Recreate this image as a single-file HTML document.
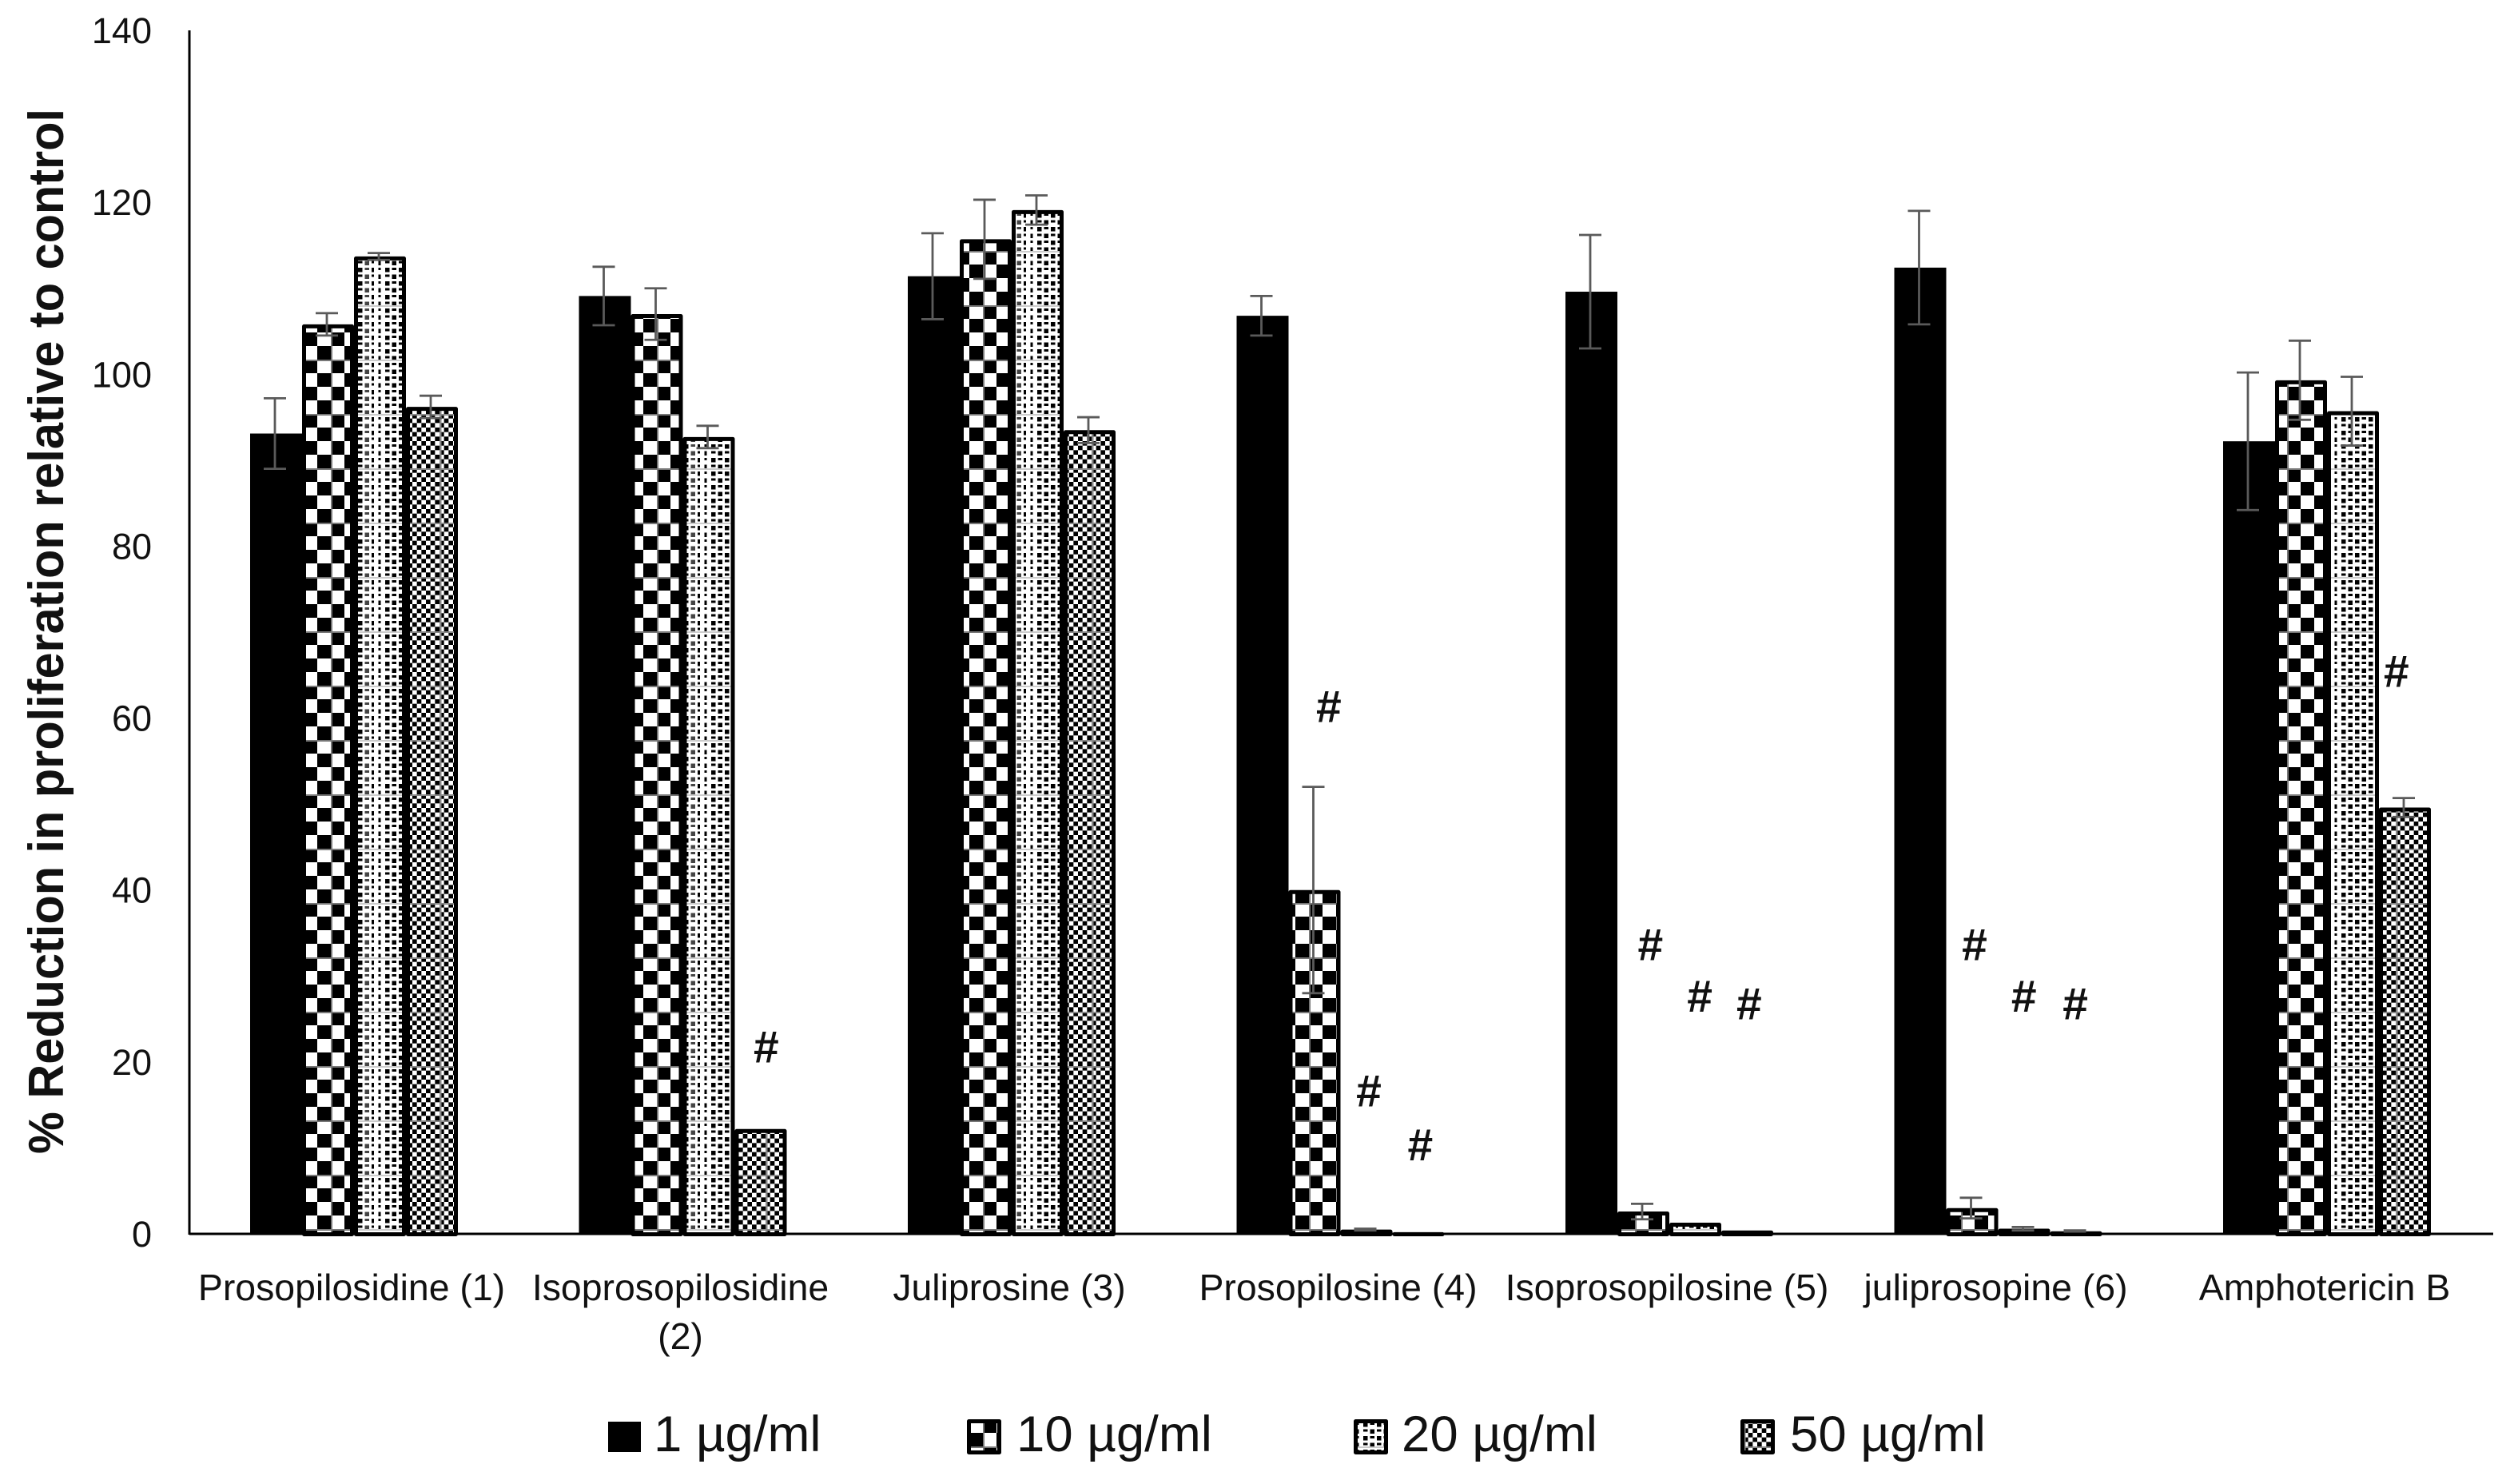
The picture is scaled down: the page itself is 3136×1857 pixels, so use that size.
<!DOCTYPE html>
<html lang="en">
<head>
<meta charset="utf-8">
<title>Reduction in proliferation relative to control</title>
<style>
html,body{margin:0;padding:0;background:#fff;width:3136px;height:1857px;overflow:hidden}
svg{display:block}
text{font-family:"Liberation Sans",sans-serif;fill:#111}
</style>
</head>
<body>
<svg id="chart" xmlns="http://www.w3.org/2000/svg" width="3136" height="1857" viewBox="0 0 3136 1857">
  <defs id="defs"></defs>
  <rect x="0" y="0" width="3136" height="1857" fill="#fff"/>
  <g id="bars"></g>
  <g id="errors"></g>
  <g id="axes"></g>
  <g id="marks"></g>
  <text transform="translate(79,790) rotate(-90)" text-anchor="middle" font-size="62" font-weight="bold" textLength="1308" lengthAdjust="spacingAndGlyphs">% Reduction in proliferation relative to control</text>
  <g>
    <g>
      <rect x="761" y="1779" width="41" height="38" fill="#000"/>
      <text x="818" y="1816" font-size="63.5">1 µg/ml</text>
    </g>
    <g>
      <rect x="1212.5" y="1778.5" width="38" height="39" fill="url(#pat-check)" stroke="#000" stroke-width="5" stroke-linejoin="round"/>
      <text x="1272" y="1816" font-size="63.5">10 µg/ml</text>
    </g>
    <g>
      <rect x="1696.5" y="1778.5" width="38" height="39" fill="url(#pat-dots)" stroke="#000" stroke-width="5" stroke-linejoin="round"/>
      <text x="1754" y="1816" font-size="63.5">20 µg/ml</text>
    </g>
    <g>
      <rect x="2180.5" y="1778.5" width="38" height="39" fill="url(#pat-fine)" stroke="#000" stroke-width="5" stroke-linejoin="round"/>
      <text x="2240" y="1816" font-size="63.5">50 µg/ml</text>
    </g>
  </g>
</svg>
<script>
// ---- data ----
const categories = [
  ["Prosopilosidine (1)"],
  ["Isoprosopilosidine", "(2)"],
  ["Juliprosine (3)"],
  ["Prosopilosine (4)"],
  ["Isoprosopilosine (5)"],
  ["juliprosopine (6)"],
  ["Amphotericin B"]
];
const seriesNames = ["1-ug-ml", "10-ug-ml", "20-ug-ml", "50-ug-ml"];
const values1 = [93.1, 109.1, 111.4, 106.8, 109.6, 112.4, 92.2];
const values10 = [105.8, 107.0, 115.7, 40.0, 2.6, 3.0, 99.3];
const values20 = [113.7, 92.7, 119.1, 0.5, 1.3, 0.6, 95.7];
const values50 = [96.2, 12.2, 93.5, 0.2, 0.4, 0.3, 49.6];
const errors1 = [4.1, 3.4, 5.0, 2.3, 6.6, 6.6, 8.0];
const errors10 = [1.3, 3.0, 4.6, 12.0, 0.9, 1.2, 4.6];
const errors20 = [0.4, 1.3, 1.7, 0.1, 0, 0.2, 4.0];
const errors50 = [1.3, 0, 1.5, 0, 0, 0.1, 1.1];
const yTicks = [0, 20, 40, 60, 80, 100, 120, 140];
// "#" annotations: category index, fractional series slot, value height
const markCategory = [1, 3, 3, 3, 4, 4, 4, 5, 5, 5, 6];
const markSlot = [3.09, 1.26, 2.03, 3.02, 1.12, 2.07, 3.02, 1.03, 1.98, 2.97, 2.82];
const markValue = [21.8, 61.4, 16.7, 10.4, 33.7, 27.7, 26.8, 33.7, 27.7, 26.8, 65.5];

const allValues = [values1, values10, values20, values50];
const allErrors = [errors1, errors10, errors20, errors50];

// ---- axis functions ----
const NS = "http://www.w3.org/2000/svg";
const plotLeft = 237, plotRight = 3120, plotTop = 38, plotBottom = 1544, yMax = 140;
const groupFirst = 313, groupPitch = 411.5, barWidth = 65;
function yScale(v) { return plotBottom - (v / yMax) * (plotBottom - plotTop); }
function xBar(cat, slot) { return groupFirst + cat * groupPitch + slot * barWidth; }
function make(tag, attrs, parent) {
  const el = document.createElementNS(NS, tag);
  for (const k in attrs) el.setAttribute(k, attrs[k]);
  parent.appendChild(el);
  return el;
}

// ---- patterns (anchored to a global 68px lattice like the source) ----
const defs = document.getElementById("defs");
function makePattern(id) {
  return make("pattern", {id: id, patternUnits: "userSpaceOnUse", x: 414, y: 450, width: 68, height: 68}, defs);
}
const pCheck = makePattern("pat-check");
make("rect", {x: 0, y: 0, width: 68, height: 68, fill: "#fff"}, pCheck);
for (let r = 0; r < 4; r++) for (let c = 0; c < 4; c++) {
  if ((r + c) % 2 === 0) make("rect", {x: c * 17, y: r * 17, width: 17, height: 17, fill: "#000"}, pCheck);
}
make("rect", {x: 0, y: 0, width: 68, height: 2, fill: "#777"}, pCheck);
make("rect", {x: 0, y: 0, width: 2, height: 68, fill: "#777"}, pCheck);

const pDots = makePattern("pat-dots");
make("rect", {x: 0, y: 0, width: 68, height: 68, fill: "#fff"}, pDots);
for (let r = 0; r < 8; r++) for (let c = 0; c < 8; c++) {
  const big = (r + c) % 2 === 0;
  const narrow = c === 6 || c === 7;
  make("rect", {x: c * 8.5, y: 4 + r * 8.5, width: narrow ? 3 : 5.5, height: big ? 5.5 : 3, fill: c === 5 ? "#444" : "#000"}, pDots);
}
make("rect", {x: 0, y: 0, width: 68, height: 2, fill: "#ccc"}, pDots);

const pFine = makePattern("pat-fine");
make("rect", {x: 0, y: 0, width: 68, height: 68, fill: "#fff"}, pFine);
const fineCell = 68 / 12;
for (let r = 0; r < 12; r++) for (let c = 0; c < 12; c++) {
  if ((r + c) % 2 === 0) make("rect", {x: c * fineCell, y: r * fineCell, width: fineCell, height: fineCell, fill: "#000"}, pFine);
}
make("rect", {x: 0, y: 0, width: 68, height: 2, fill: "#888"}, pFine);
make("rect", {x: 0, y: 0, width: 2.5, height: 68, fill: "#888"}, pFine);

// ---- bars ----
const barsG = document.getElementById("bars");
const patternFor = ["", "url(#pat-check)", "url(#pat-dots)", "url(#pat-fine)"];
allValues.forEach(function (vals, s) {
  vals.forEach(function (v, c) {
    const x = xBar(c, s);
    const top = yScale(v);
    let bar;
    if (s === 0) {
      bar = make("rect", {x: x, y: top, width: barWidth, height: plotBottom - top, fill: "#000"}, barsG);
    } else {
      const h = Math.max(0, plotBottom + 3 - top - 5);
      bar = make("rect", {x: x + 2.5, y: top + 2.5, width: barWidth - 5, height: h, fill: patternFor[s], stroke: "#000", "stroke-width": 5, "stroke-linejoin": "round"}, barsG);
    }
    
    
  });
});

// ---- error bars ----
const errG = document.getElementById("errors");
allErrors.forEach(function (errs, s) {
  errs.forEach(function (e, c) {
    if (e <= 0) return;
    const cx = xBar(c, s) + barWidth / 2 - 1.5;
    const y1 = yScale(allValues[s][c] + e);
    const y2 = yScale(allValues[s][c] - e);
    const d = "M" + (cx - 14) + " " + y1 + "H" + (cx + 14) + "M" + cx + " " + y1 + "V" + y2 + "M" + (cx - 14) + " " + y2 + "H" + (cx + 14);
    const p = make("path", {d: d, fill: "none", stroke: "#5a5a5a", "stroke-width": 2.8}, errG);
    
    
  });
});

// ---- axes ----
const axesG = document.getElementById("axes");
const yLine = make("line", {x1: plotLeft, y1: plotTop, x2: plotLeft, y2: plotBottom + 1, stroke: "#000", "stroke-width": 3}, axesG);


const xLine = make("line", {x1: plotLeft, y1: plotBottom, x2: plotRight, y2: plotBottom, stroke: "#000", "stroke-width": 3}, axesG);


yTicks.forEach(function (t) {
  const lab = make("text", {x: 190, y: yScale(t) + 16, "text-anchor": "end", "font-size": 45}, axesG);
  lab.textContent = String(t);
  
  
});
categories.forEach(function (lines, c) {
  const cx = xBar(c, 2) - 3;
  lines.forEach(function (line, i) {
    const lab = make("text", {x: cx, y: 1627 + i * 61, "text-anchor": "middle", "font-size": 46.4}, axesG);
    lab.textContent = line;
    
    
  });
});

// ---- "#" marks ----
const marksG = document.getElementById("marks");
markValue.forEach(function (v, i) {
  const m = make("text", {x: xBar(markCategory[i], markSlot[i]) + barWidth / 2 + 1, y: yScale(v) + 20, "text-anchor": "middle", "font-size": 57, "font-weight": "bold"}, marksG);
  m.textContent = "#";
  
  
});
</script>
</body>
</html>
